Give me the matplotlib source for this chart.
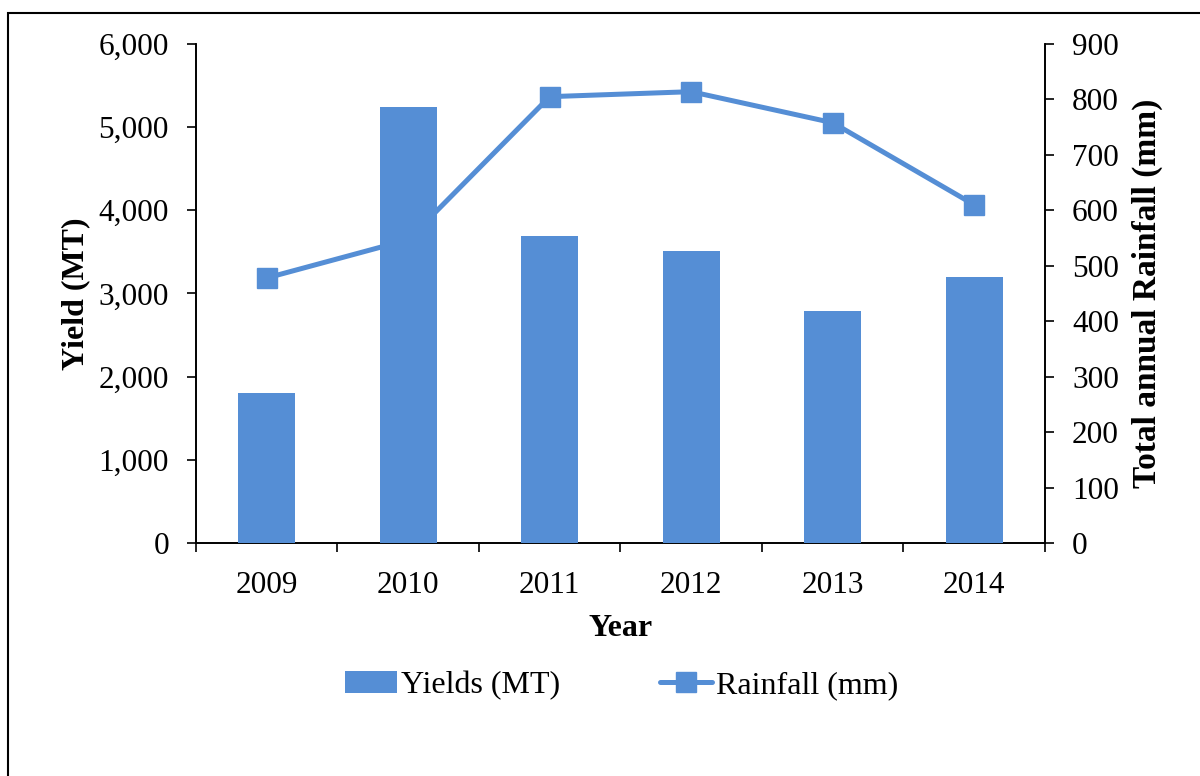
import matplotlib
matplotlib.use("Agg")
import matplotlib.pyplot as plt
import matplotlib.ticker as ticker
from matplotlib.patches import Rectangle
import numpy as np

years = ["2009", "2010", "2011", "2012", "2013", "2014"]
yields_mt = [1800, 5240, 3690, 3510, 2790, 3200]
rainfall_mm = [478, 547, 805, 814, 758, 610]

blue = "#558ED5"
plt.rcParams["font.family"] = ["Liberation Serif", "DejaVu Serif"]
plt.rcParams["font.size"] = 22.5

fig = plt.figure(figsize=(12, 7.76), dpi=100)
ax = fig.add_axes([0.1633, 0.3003, 0.7075, 0.643])
ax2 = ax.twinx()

x = np.arange(len(years))

# line sits underneath the bars, like the original
ax.set_zorder(2)
ax2.set_zorder(1)
ax.patch.set_visible(False)

ax.bar(x, yields_mt, width=0.4, color=blue, label="Yields (MT)", zorder=3)
ax2.plot(x, rainfall_mm, color=blue, lw=3.6, marker="s", markersize=14,
         label="Rainfall (mm)", solid_capstyle="round")

ax.set_xlim(-0.5, 5.5)
ax.set_ylim(0, 6000)
ax2.set_ylim(0, 900)
ax.yaxis.set_major_locator(ticker.MultipleLocator(1000))
ax.yaxis.set_major_formatter(ticker.FuncFormatter(lambda v, p: f"{int(v):,}"))
ax2.yaxis.set_major_locator(ticker.MultipleLocator(100))

ax.set_xticks(x)
ax.set_xticklabels(years)
ax.set_xticks(np.arange(-0.5, 6, 1), minor=True)
ax.tick_params(axis="x", which="major", length=0, pad=20)
ax.tick_params(axis="x", which="minor", length=6.5, width=1.2, direction="out")
ax.tick_params(axis="y", length=6.5, width=1.2, pad=13)
ax2.tick_params(axis="y", length=6.5, width=1.2, pad=13)

for a in (ax, ax2):
    a.spines["top"].set_visible(False)
    for s in ("left", "right", "bottom"):
        a.spines[s].set_linewidth(1.2)

ax.set_ylabel("Yield (MT)", fontweight="bold", fontsize=23, labelpad=6)
ax2.set_ylabel("Total annual Rainfall (mm)", fontweight="bold", fontsize=24, labelpad=9)
ax.set_xlabel("Year", fontweight="bold", fontsize=23, labelpad=10)

h1, l1 = ax.get_legend_handles_labels()
h2, l2 = ax2.get_legend_handles_labels()
fig.legend(h1 + h2, l1 + l2, loc="center", bbox_to_anchor=(0.518, 0.117), ncol=2,
           frameon=False, fontsize=23, columnspacing=3.1, handlelength=1.63,
           handletextpad=0.15)

# outer frame
fig.patches.append(Rectangle((8 / 1200, -0.05), 1.1, 1 - 13 / 776 + 0.05,
                             transform=fig.transFigure, fill=False,
                             edgecolor="black", lw=1.5))

fig.savefig("out.png", dpi=100)
